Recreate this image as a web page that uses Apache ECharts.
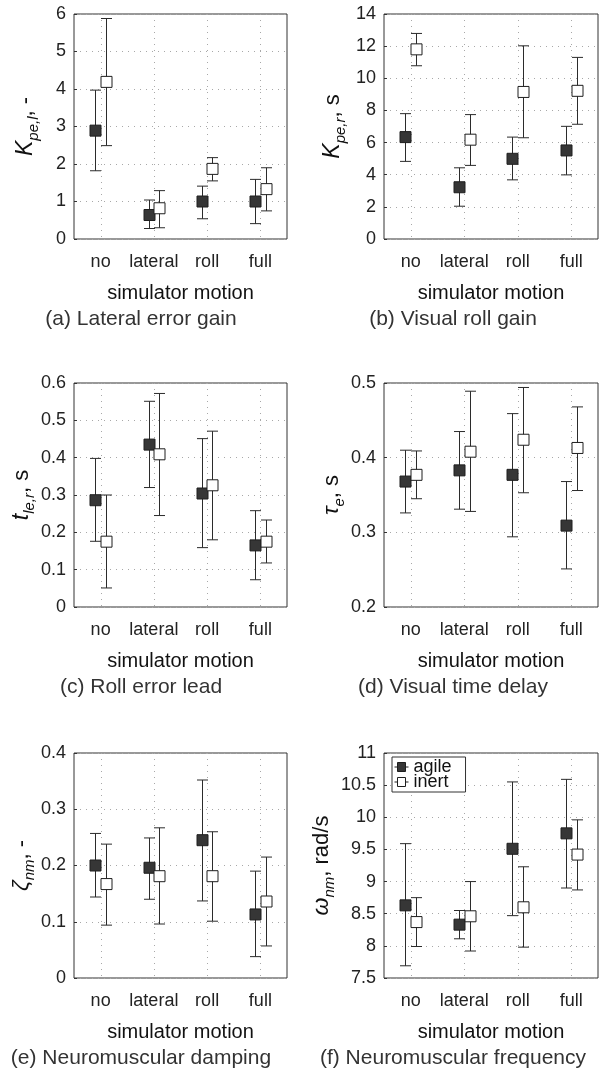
<!DOCTYPE html>
<html>
<head>
<meta charset="utf-8">
<script src="https://cdn.jsdelivr.net/npm/echarts@6/dist/echarts.min.js"></script>
<style>
html,body{margin:0;padding:0;background:#fff;}
#chart{width:603px;height:1071px;}
</style>
</head>
<body>
<div id="chart"></div>
<script>
// ---------- data ----------
const categories = ['no', 'lateral', 'roll', 'full'];
// each entry: [mean, lower whisker, upper whisker]
const kpelAgile = [[2.89, 1.82, 3.97], [0.64, 0.28, 1.04], [1.00, 0.54, 1.41], [1.00, 0.41, 1.59]];
const kpelInert = [[4.19, 2.49, 5.88], [0.82, 0.30, 1.29], [1.87, 1.55, 2.17], [1.33, 0.75, 1.90]];
const kperAgile = [[6.34, 4.83, 7.80], [3.22, 2.04, 4.43], [4.99, 3.68, 6.34], [5.51, 3.99, 7.01]];
const kperInert = [[11.80, 10.78, 12.79], [6.18, 4.58, 7.74], [9.15, 6.30, 12.02], [9.22, 7.14, 11.30]];
const tlerAgile = [[0.286, 0.176, 0.398], [0.435, 0.320, 0.551], [0.304, 0.159, 0.451], [0.165, 0.073, 0.258]];
const tlerInert = [[0.175, 0.051, 0.300], [0.409, 0.245, 0.572], [0.326, 0.180, 0.471], [0.175, 0.118, 0.233]];
const taueAgile = [[0.368, 0.326, 0.410], [0.383, 0.331, 0.435], [0.377, 0.294, 0.459], [0.309, 0.251, 0.368]];
const taueInert = [[0.377, 0.345, 0.409], [0.408, 0.328, 0.489], [0.424, 0.353, 0.494], [0.413, 0.356, 0.468]];
const zetaAgile = [[0.200, 0.144, 0.257], [0.196, 0.140, 0.249], [0.245, 0.137, 0.352], [0.113, 0.038, 0.190]];
const zetaInert = [[0.167, 0.094, 0.238], [0.181, 0.096, 0.267], [0.181, 0.101, 0.260], [0.136, 0.057, 0.215]];
const omegaAgile = [[8.63, 7.69, 9.59], [8.33, 8.11, 8.55], [9.51, 8.47, 10.55], [9.75, 8.90, 10.59]];
const omegaInert = [[8.37, 7.99, 8.75], [8.46, 7.92, 9.00], [8.60, 7.98, 9.23], [9.42, 8.87, 9.96]];

// y axis ranges: [min, max, interval]
const rangeA = [0, 6, 1];
const rangeB = [0, 14, 2];
const rangeC = [0, 0.6, 0.1];
const rangeD = [0.2, 0.5, 0.1];
const rangeE = [0, 0.4, 0.1];
const rangeF = [7.5, 11, 0.5];

const captions = ['(a) Lateral error gain', '(b) Visual roll gain', '(c) Roll error lead',
                  '(d) Visual time delay', '(e) Neuromuscular damping', '(f) Neuromuscular frequency'];
const xAxisTitle = 'simulator motion';
// y axis titles: [main symbol, subscript, remainder]
const yTitles = [['K', 'pe,l', ', -'], ['K', 'pe,r', ', s'], ['t', 'le,r', ', s'],
                 ['τ', 'e', ', s'], ['ζ', 'nm', ', -'], ['ω', 'nm', ', rad/s']];

// ---------- layout ----------
const FONT = 'Liberation Sans, Arial, Helvetica, sans-serif';
const colLeft = [74, 384];
const colWidth = [213, 214];
const rowTop = [14, 383, 753];
const rowHeight = [225, 224, 225];
const captionX = [141, 453];
const TXT = '#222';

const panels = [
  {agile: kpelAgile, inert: kpelInert, range: rangeA},
  {agile: kperAgile, inert: kperInert, range: rangeB},
  {agile: tlerAgile, inert: tlerInert, range: rangeC},
  {agile: taueAgile, inert: taueInert, range: rangeD},
  {agile: zetaAgile, inert: zetaInert, range: rangeE},
  {agile: omegaAgile, inert: omegaInert, range: rangeF}
];

function toData(arr) {
  return arr.map((d, i) => [i, d[0], d[1], d[2]]);
}

function makeRender(shift, filled) {
  return function (params, api) {
    const cat = api.value(0);
    const c = api.coord([cat, api.value(1)]);
    const band = api.size([1, 0])[0];
    const x = Math.round(c[0] + shift * band) + 0.5;
    const yLo = api.coord([cat, api.value(2)])[1];
    const yHi = api.coord([cat, api.value(3)])[1];
    const h = 5.5, cw = 5.5;
    const stroke = '#2b2b2b';
    return {
      type: 'group',
      children: [
        {type: 'line', shape: {x1: x, y1: yHi, x2: x, y2: yLo}, style: {stroke: stroke, lineWidth: 1}},
        {type: 'line', shape: {x1: x - cw, y1: yHi, x2: x + cw, y2: yHi}, style: {stroke: stroke, lineWidth: 1}},
        {type: 'line', shape: {x1: x - cw, y1: yLo, x2: x + cw, y2: yLo}, style: {stroke: stroke, lineWidth: 1}},
        {type: 'rect', shape: {x: x - h, y: c[1] - h, width: 2 * h, height: 2 * h},
         style: {fill: filled ? '#363636' : '#ffffff', stroke: '#1e1e1e', lineWidth: 1}}
      ]
    };
  };
}

function makeGridRender(ymin) {
  return function (params, api) {
    const cs = params.coordSys;
    const x = Math.round(api.coord([api.value(0), ymin])[0]) + 0.5;
    return {
      type: 'line',
      shape: {x1: x, y1: cs.y, x2: x, y2: cs.y + cs.height},
      style: {stroke: '#a8a8a8', lineWidth: 1, lineDash: [1, 5]}
    };
  };
}

const grids = [], xAxes = [], yAxes = [], series = [], graphics = [];

panels.forEach((p, k) => {
  const col = k % 2, row = Math.floor(k / 2);
  grids.push({
    left: colLeft[col], top: rowTop[row], width: colWidth[col], height: rowHeight[row],
    show: true, borderColor: '#333', borderWidth: 1, backgroundColor: 'transparent'
  });
  xAxes.push({
    type: 'category', gridIndex: k, data: categories, boundaryGap: true,
    axisLine: {show: false}, axisTick: {show: false}, splitLine: {show: false},
    axisLabel: {fontSize: 18, color: TXT, margin: 14, fontFamily: FONT, interval: 0, hideOverlap: false},
    name: xAxisTitle, nameLocation: 'middle', nameGap: 44,
    nameTextStyle: {fontSize: 20, color: '#111', fontFamily: FONT}
  });
  const yt = yTitles[k];
  yAxes.push({
    type: 'value', gridIndex: k, min: p.range[0], max: p.range[1], interval: p.range[2],
    axisLine: {show: false},
    axisTick: {show: true, inside: true, length: 3, lineStyle: {color: '#333'}},
    splitLine: {show: true, lineStyle: {color: '#a8a8a8', type: [1, 5], width: 1}},
    axisLabel: {fontSize: 18, color: TXT, margin: 8, fontFamily: FONT},
    name: '{m|' + yt[0] + '}{s|' + yt[1] + '}{n|' + yt[2] + '}',
    nameLocation: 'middle', nameRotate: 90, nameGap: col === 0 ? 33 : 36,
    nameTextStyle: {
      fontFamily: FONT, color: '#111',
      rich: {
        m: {fontSize: 23, fontStyle: 'italic', fontFamily: FONT, color: '#111', lineHeight: 30, verticalAlign: 'middle'},
        s: {fontSize: 15, fontStyle: 'italic', fontFamily: FONT, color: '#111', lineHeight: 15, verticalAlign: 'bottom'},
        n: {fontSize: 22, fontFamily: FONT, color: '#111', lineHeight: 30, verticalAlign: 'middle'}
      }
    }
  });
  series.push({
    type: 'custom', name: 'gridlines', xAxisIndex: k, yAxisIndex: k, z: 1, silent: true,
    renderItem: makeGridRender(p.range[0]), data: categories.map((c, i) => [i]),
    encode: {x: 0}
  });
  series.push({
    type: 'custom', name: 'agile', xAxisIndex: k, yAxisIndex: k, z: 3,
    renderItem: makeRender(-0.1, true), data: toData(p.agile),
    encode: {x: 0, y: [1, 2, 3]}, itemStyle: {color: '#363636'}
  });
  series.push({
    type: 'custom', name: 'inert', xAxisIndex: k, yAxisIndex: k, z: 4,
    renderItem: makeRender(0.1, false), data: toData(p.inert),
    encode: {x: 0, y: [1, 2, 3]}, itemStyle: {color: '#ffffff'}
  });
  graphics.push({
    type: 'text', x: captionX[col], y: rowTop[row] + rowHeight[row] + 80,
    style: {text: captions[k], font: '21px ' + FONT, fill: '#333', textAlign: 'center', textVerticalAlign: 'middle'}
  });
});

const iconPath = 'path://M0,4.5H3M3,0H11V9H3ZM11,4.5H14';

const option = {
  animation: false,
  backgroundColor: '#fff',
  grid: grids,
  xAxis: xAxes,
  yAxis: yAxes,
  series: series,
  graphic: graphics,
  legend: {
    left: 392, top: 757, orient: 'vertical',
    borderColor: '#333', borderWidth: 1, backgroundColor: '#fff',
    padding: [1, 14, 1, 2], itemGap: -3, itemWidth: 14, itemHeight: 9,
    selectedMode: false,
    textStyle: {fontSize: 18, lineHeight: 14, color: '#111', fontFamily: FONT},
    data: [
      {name: 'agile', icon: iconPath, itemStyle: {color: '#363636', borderColor: '#1e1e1e', borderWidth: 1}},
      {name: 'inert', icon: iconPath, itemStyle: {color: '#ffffff', borderColor: '#1e1e1e', borderWidth: 1}}
    ]
  }
};

const chart = echarts.init(document.getElementById('chart'), null, {renderer: 'canvas'});
chart.setOption(option);
</script>
</body>
</html>
